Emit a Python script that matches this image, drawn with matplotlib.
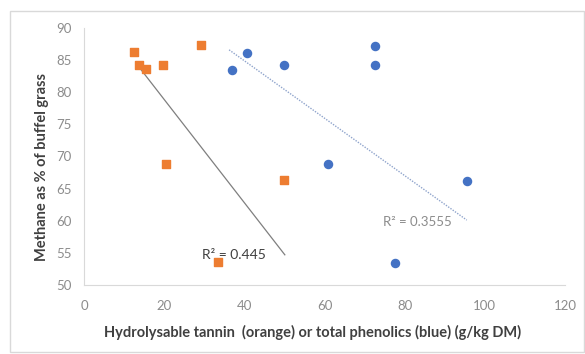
import matplotlib.pyplot as plt
from matplotlib.patches import Rectangle

# orange: hydrolysable tannin
tannin_x = [12.5, 13.7, 15.5, 19.7, 29.2, 20.4, 49.9, 33.4]
tannin_y = [86.3, 84.2, 83.6, 84.2, 87.4, 68.8, 66.4, 53.6]
# blue: total phenolics
phen_x = [36.9, 40.6, 49.9, 72.6, 72.6, 60.8, 95.5, 77.6]
phen_y = [83.5, 86.1, 84.2, 87.2, 84.2, 68.8, 66.2, 53.5]

# trendline ends as drawn in the source chart
tannin_trend_x = [13.5, 50.1]
tannin_trend_y = [84.1, 54.7]
phen_trend_x = [36.2, 95.5]
phen_trend_y = [86.6, 60.1]

ORANGE = "#ED7D31"
BLUE = "#4472C4"

plt.rcParams["font.family"] = ["Lato", "DejaVu Sans"]

fig = plt.figure(figsize=(5.85, 3.54), dpi=100)
fig.patches.append(Rectangle((10 / 585, 2 / 354), 574 / 585, 341 / 354,
                             transform=fig.transFigure, fill=False,
                             edgecolor="#D9D9D9", linewidth=1.0))
ax = fig.add_axes([84 / 585, 1 - 285 / 354, 481 / 585, 257 / 354])

ax.plot(tannin_trend_x, tannin_trend_y, color="#7F7F7F", linewidth=0.9)
ax.plot(phen_trend_x, phen_trend_y, color="#8FA4CC", linewidth=1.0,
        linestyle=(0, (1, 1)))
ax.scatter(phen_x, phen_y, s=34, color=BLUE, marker="o", zorder=3)
ax.scatter(tannin_x, tannin_y, s=26, color=ORANGE, marker="s", zorder=3)

ax.text(29.4, 54.7, "R² = 0.445", fontsize=10, color="#404040", va="center")
ax.text(74.6, 59.8, "R² = 0.3555", fontsize=9.5, color="#8C8C8C", va="center")

ax.set_xlim(0, 120)
ax.set_ylim(50, 90)
ax.set_xticks(range(0, 121, 20))
ax.set_yticks(range(50, 91, 5))
ax.tick_params(length=0, labelsize=9.5, labelcolor="#8C8C8C")
ax.tick_params(axis="y", pad=9)
ax.tick_params(axis="x", pad=11)
for side in ("top", "right"):
    ax.spines[side].set_visible(False)
for side in ("left", "bottom"):
    ax.spines[side].set_color("#D9D9D9")

ax.set_xlabel("Hydrolysable tannin  (orange) or total phenolics (blue) (g/kg DM)",
              fontsize=10.5, fontweight="bold", color="#404040", va="center")
ax.xaxis.set_label_coords(0.476, -0.183)
ax.set_ylabel("Methane as % of buffel grass", fontsize=10.5, fontweight="bold",
              color="#404040", va="center")
ax.yaxis.set_label_coords(-0.087, 0.46)

fig.savefig("out.png", dpi=100)
